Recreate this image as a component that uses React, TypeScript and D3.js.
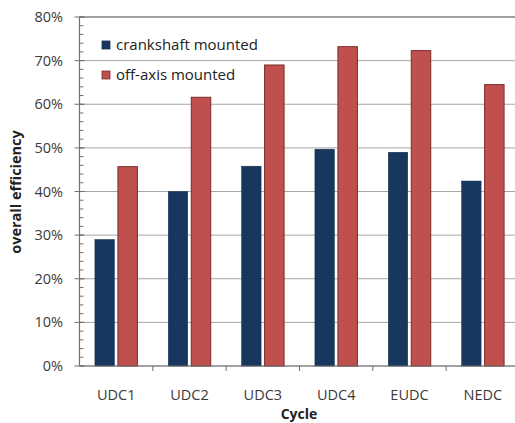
import React from "react";
import * as d3 from "d3";

const categories = ["UDC1", "UDC2", "UDC3", "UDC4", "EUDC", "NEDC"];
const crankshaft = [0.29, 0.40, 0.458, 0.497, 0.49, 0.424];
const offAxis = [0.457, 0.616, 0.69, 0.732, 0.723, 0.645];
const seriesNames = ["crankshaft mounted", "off-axis mounted"];
const yTicks = [0, 0.1, 0.2, 0.3, 0.4, 0.5, 0.6, 0.7, 0.8];

const W = 515;
const H = 423;
const left = 79.5;
const right = 519.5;
const top = 17;
const bottom = 366;
const font = "'Open Sans', sans-serif";
const textColor = "#3a3a3a";
const blue = "#17375E";
const red = "#C0504D";

export default function App() {
  const x = d3.scaleBand<string>().domain(categories).range([left, right]).paddingInner(0).paddingOuter(0);
  const y = d3.scaleLinear().domain([0, 0.8]).range([bottom, top]);
  const bw = x.bandwidth();
  const barW = 19.5;
  const gap = 3.5;
  const groupW = barW * 2 + gap;
  const off = (bw - groupW) / 2;
  const minor = d3.range(0, 0.8001, 0.02);

  return (
    <svg width={W} height={H} style={{ position: "absolute", left: 0, top: 0, background: "#fff" }}>
      <rect x={0} y={0} width={W} height={H} fill="#fff" />
      {yTicks.map((t) => (
        <line key={"g" + t} x1={left} x2={right} y1={y(t)} y2={y(t)} stroke={t === 0.8 ? "#808080" : "#a6a6a6"} strokeWidth={t === 0.8 ? 1.5 : 1} />
      ))}
      {categories.map((c, i) => {
        const x0 = x(c)! + off;
        return (
          <g key={c}>
            <rect x={x0} y={y(crankshaft[i])} width={barW} height={bottom - y(crankshaft[i])} fill={blue} stroke="#13304f" strokeWidth={0.5} />
            <rect x={x0 + barW + gap} y={y(offAxis[i])} width={barW} height={bottom - y(offAxis[i])} fill={red} stroke="#7a2e2c" strokeWidth={1} />
          </g>
        );
      })}
      {minor.map((t) => (
        <line key={"m" + t} x1={left} x2={left + 4} y1={y(t)} y2={y(t)} stroke="#707070" strokeWidth={1} />
      ))}
      {yTicks.map((t) => (
        <g key={"t" + t}>
          <line x1={left - 5} x2={left + 5} y1={y(t)} y2={y(t)} stroke="#707070" strokeWidth={1} />
          <text x={63} y={y(t)} dy="0.35em" textAnchor="end" fontFamily={font} fontSize={14.5} fill={textColor}>
            {d3.format(".0%")(t)}
          </text>
        </g>
      ))}
      <line x1={left} x2={left} y1={top} y2={bottom} stroke="#707070" strokeWidth={1.2} />
      <line x1={left} x2={right} y1={bottom} y2={bottom} stroke="#707070" strokeWidth={1.2} />
      {categories.map((c) => (
        <line key={"xt" + c} x1={x(c)! + bw} x2={x(c)! + bw} y1={bottom} y2={bottom + 5} stroke="#707070" strokeWidth={1} />
      ))}
      {categories.map((c) => (
        <text key={"xl" + c} x={x(c)! + bw / 2} y={400} textAnchor="middle" fontFamily={font} fontSize={14.5} fill={textColor}>
          {c}
        </text>
      ))}
      <text x={299} y={419} textAnchor="middle" fontFamily={font} fontSize={14} fontWeight="bold" fill="#222">
        Cycle
      </text>
      <text transform="translate(21,192) rotate(-90)" textAnchor="middle" fontFamily={font} fontSize={14.5} fontWeight="bold" fill="#222">
        overall efficiency
      </text>
      {seriesNames.map((s, i) => (
        <g key={s} transform={`translate(102,${41 + i * 30})`}>
          <rect x={0} y={0} width={8} height={8} fill={i === 0 ? blue : red} stroke={i === 0 ? "#13304f" : "#7a2e2c"} strokeWidth={0.8} />
          <text x={14} y={9} fontFamily={font} fontSize={15} fill="#222">
            {s}
          </text>
        </g>
      ))}
    </svg>
  );
}
